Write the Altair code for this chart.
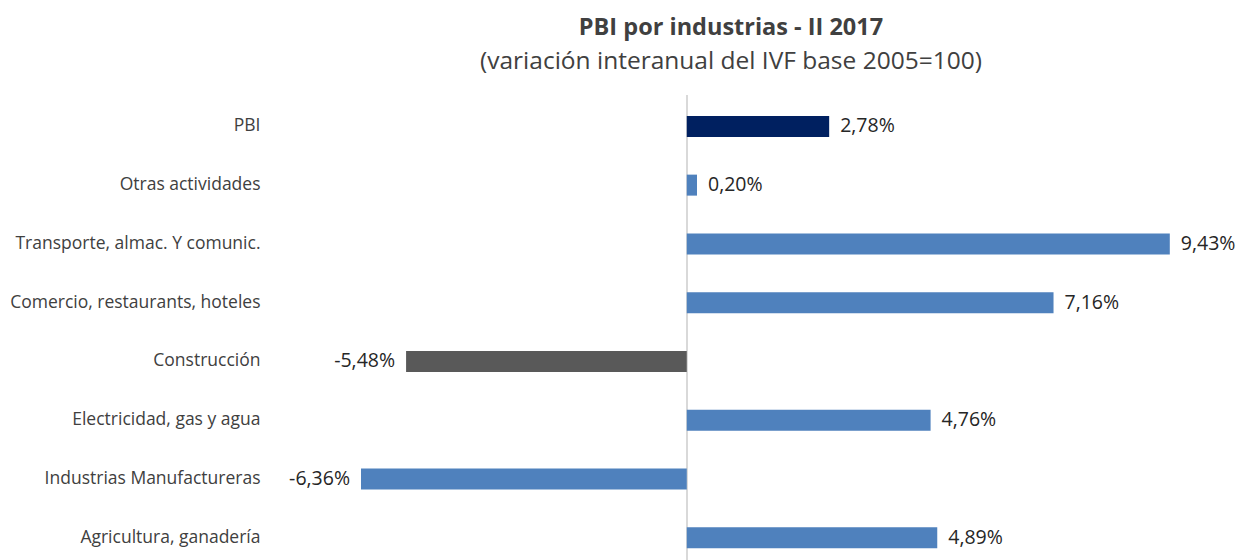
import altair as alt
import pandas as pd

categories = ["PBI", "Otras actividades", "Transporte, almac. Y comunic.",
              "Comercio, restaurants, hoteles", "Construcción",
              "Electricidad, gas y agua", "Industrias Manufactureras",
              "Agricultura, ganadería"]
values = [2.78, 0.20, 9.43, 7.16, -5.48, 4.76, -6.36, 4.89]
groups = ["pbi", "sector", "sector", "sector", "constr", "sector", "sector", "sector"]

df = pd.DataFrame({
    "cat": categories,
    "v": values,
    "g": groups,
    "z": [0.0] * len(values),
    "lbl": [f"{v:.2f}".replace(".", ",") + "%" for v in values],
})

FONT = "Open Sans"
W, H = 922, 465

y_enc = alt.Y("cat:N", sort=categories,
              scale=alt.Scale(range=[2, 472], paddingInner=0, paddingOuter=0),
              axis=alt.Axis(title=None, ticks=False, domain=False, labelPadding=17,
                            labelFontSize=17.5, labelColor="#404040", labelFont=FONT,
                            labelLimit=400))
x_enc = alt.X("v:Q", scale=alt.Scale(domain=[-8, 10], nice=False), axis=None)

bars = alt.Chart(df).mark_bar(size=21).encode(
    x=x_enc, x2="z:Q", y=y_enc,
    color=alt.Color("g:N", scale=alt.Scale(domain=["pbi", "sector", "constr"],
                                           range=["#002060", "#4F81BD", "#595959"]),
                    legend=None),
)

zero = alt.Chart(df).mark_rule(color="#D9D9D9", strokeWidth=1.5).encode(
    x=alt.X("z:Q", scale=alt.Scale(domain=[-8, 10], nice=False), axis=None),
    y=alt.value(0), y2=alt.value(H))

pos = alt.Chart(df).transform_filter("datum.v >= 0").mark_text(
    align="left", baseline="middle", dx=11, fontSize=19.5, font=FONT, color="#262626"
).encode(x=x_enc, y=y_enc, text="lbl:N")

neg = alt.Chart(df).transform_filter("datum.v < 0").mark_text(
    align="right", baseline="middle", dx=-11, fontSize=19.5, font=FONT, color="#262626"
).encode(x=x_enc, y=y_enc, text="lbl:N")

chart = alt.layer(zero, bars, pos, neg).properties(
    width=W, height=H,
    autosize=alt.AutoSizeParams(type="none"),
    padding={"left": 277, "top": 95, "right": 41, "bottom": 0},
    title=alt.TitleParams(
        text="PBI por industrias - II 2017",
        subtitle="(variación interanual del IVF base 2005=100)",
        font=FONT, fontSize=23.5, fontWeight="bold", color="#404040",
        subtitleFont=FONT, subtitleFontSize=24.5, subtitleColor="#404040",
        subtitlePadding=10, anchor="middle", offset=21, dx=-7,
    ),
).configure_view(stroke=None)

chart.save("out.html", embed_options={"renderer": "svg", "actions": False})
